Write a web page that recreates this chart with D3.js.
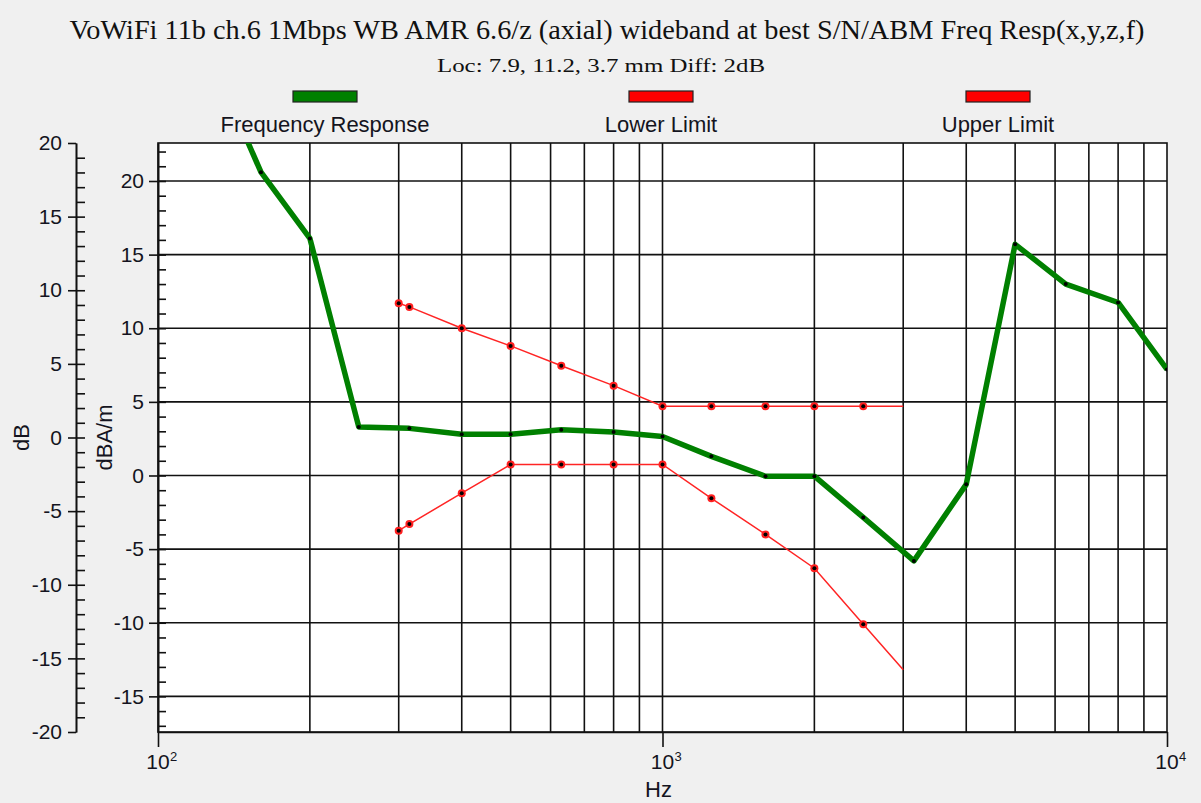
<!DOCTYPE html>
<html>
<head>
<meta charset="utf-8">
<script src="https://cdn.jsdelivr.net/npm/d3@7"></script>
<style>
  html, body { margin: 0; padding: 0; background: #f0f0f0; }
  svg { display: block; }
</style>
</head>
<body>
<svg id="chart" width="1201" height="803"></svg>
<script>
// ---- data ----
const titleText = "VoWiFi 11b ch.6 1Mbps WB AMR 6.6/z (axial) wideband at best S/N/ABM Freq Resp(x,y,z,f)";
const subtitleText = "Loc: 7.9, 11.2, 3.7 mm Diff: 2dB";
const legendNames = ["Frequency Response", "Lower Limit", "Upper Limit"];
const legendColors = ["#008000", "#ff0000", "#ff0000"];

const frFreq  = [125, 160, 200, 250, 315, 400, 500, 630, 800, 1000, 1250, 1600, 2000, 2500, 3150, 4000, 5000, 6300, 8000, 10000];
const frValue = [29.0, 20.6, 16.1, 3.3, 3.2, 2.8, 2.8, 3.1, 2.95, 2.65, 1.3, -0.05, -0.05, -2.85, -5.8, -0.6, 15.7, 13.0, 11.75, 7.2];

const limFreq     = [300, 315, 400, 500, 630, 800, 1000, 1250, 1600, 2000, 2500, 3000];
const upperValue  = [11.7, 11.45, 10.0, 8.8, 7.45, 6.1, 4.7, 4.7, 4.7, 4.7, 4.7, 4.7];
const lowerValue  = [-3.75, -3.3, -1.2, 0.75, 0.75, 0.75, 0.75, -1.55, -4.0, -6.3, -10.1, -13.2];
const limMarked   = [true, true, true, true, true, true, true, true, true, true, true, false];

const dbTicks     = [-20, -15, -10, -5, 0, 5, 10, 15, 20];
const dbaTicks    = [-15, -10, -5, 0, 5, 10, 15, 20];
const xMajorTicks = [100, 1000, 10000];
const xExponents  = ["2", "3", "4"];
const xGrid       = [200,300,400,500,600,700,800,900,2000,3000,4000,5000,6000,7000,8000,9000];

// ---- layout ----
const svg = d3.select("#chart");
const L = 158, R = 1167, T = 143, B = 732;
const x = d3.scaleLog().domain([100, 10000]).range([L, R]);
const y = d3.scaleLinear().domain([-17.42, 22.58]).range([B, T]);   // dBA/m
const yDb = d3.scaleLinear().domain([-20, 20]).range([B, T]);      // dB
const font = "'Liberation Sans', Arial, sans-serif";
const textCol = "#141420";
const plain = d => String(d);   // ASCII hyphen minus, as in the reference

// titles
svg.append("text").attr("x", 607).attr("y", 39).attr("text-anchor", "middle")
  .attr("font-family", "'Liberation Serif', 'Times New Roman', serif").attr("font-size", 27)
  .attr("textLength", 1075).attr("lengthAdjust", "spacingAndGlyphs")
  .attr("fill", "#111").text(titleText);
svg.append("text").attr("x", 601).attr("y", 72).attr("text-anchor", "middle")
  .attr("font-family", "'Liberation Serif', 'Times New Roman', serif").attr("font-size", 19)
  .attr("textLength", 328).attr("lengthAdjust", "spacingAndGlyphs")
  .attr("fill", "#111").text(subtitleText);

// legend
const legX = [325, 661, 998];
legendNames.forEach((n, i) => {
  svg.append("rect").attr("x", legX[i] - 32).attr("y", 91).attr("width", 64).attr("height", 11)
    .attr("fill", legendColors[i]).attr("stroke", "#222").attr("stroke-width", 1.2);
  svg.append("text").attr("x", legX[i]).attr("y", 132).attr("text-anchor", "middle")
    .attr("font-family", font).attr("font-size", 22).attr("fill", textCol).text(n);
});

// plot background
svg.append("rect").attr("x", L).attr("y", T).attr("width", R - L).attr("height", B - T).attr("fill", "#fff");

// grid
const grid = svg.append("g").attr("stroke", "#111").attr("stroke-width", 1.6);
grid.selectAll(".vg").data(xGrid).join("line")
  .attr("x1", d => x(d)).attr("x2", d => x(d)).attr("y1", T).attr("y2", B);
grid.append("line").attr("x1", x(1000)).attr("x2", x(1000)).attr("y1", T).attr("y2", B);
grid.selectAll(".hg").data(dbaTicks).join("line")
  .attr("x1", L).attr("x2", R).attr("y1", d => y(d)).attr("y2", d => y(d));
// frame
svg.append("rect").attr("x", L).attr("y", T).attr("width", R - L).attr("height", B - T)
  .attr("fill", "none").attr("stroke", "#111").attr("stroke-width", 1.6);

// clip
svg.append("clipPath").attr("id", "clip").append("rect")
  .attr("x", L).attr("y", T).attr("width", R - L).attr("height", B - T);
const plot = svg.append("g").attr("clip-path", "url(#clip)");

// series
const line = d3.line().x(d => x(d[0])).y(d => y(d[1]));
const lower = limFreq.map((f, i) => [f, lowerValue[i], limMarked[i]]);
const upper = limFreq.map((f, i) => [f, upperValue[i], limMarked[i]]);
const fr = frFreq.map((f, i) => [f, frValue[i]]);

[lower, upper].forEach(s => {
  plot.append("path").datum(s).attr("d", line).attr("fill", "none")
    .attr("stroke", "#ff2424").attr("stroke-width", 1.5);
  const pts = s.filter(d => d[2]);
  plot.selectAll(null).data(pts).join("circle").attr("cx", d => x(d[0])).attr("cy", d => y(d[1]))
    .attr("r", 4).attr("fill", "#ff2020");
  plot.selectAll(null).data(pts).join("circle").attr("cx", d => x(d[0])).attr("cy", d => y(d[1]))
    .attr("r", 2).attr("fill", "#000");
});

plot.append("path").datum(fr).attr("d", line).attr("fill", "none")
  .attr("stroke", "#008000").attr("stroke-width", 5.5).attr("stroke-linejoin", "round");
plot.selectAll(null).data(fr).join("circle").attr("cx", d => x(d[0])).attr("cy", d => y(d[1]))
  .attr("r", 2).attr("fill", "#000");

// ---- axes ----
function styleAxis(g) {
  g.selectAll("path, line").attr("stroke", "#111").attr("stroke-width", 1.6);
  g.selectAll("text").attr("font-family", font).attr("font-size", 21).attr("fill", textCol);
}
// dB axis (outer left)
const dbAxis = svg.append("g").attr("transform", "translate(76,0)")
  .call(d3.axisLeft(yDb).tickValues(dbTicks).tickSize(8).tickSizeOuter(0).tickPadding(6).tickFormat(plain));
styleAxis(dbAxis);
const dbMinor = svg.append("g").attr("transform", "translate(76,0)")
  .call(d3.axisRight(yDb).tickValues(d3.range(-19, 20)).tickSize(9).tickSizeOuter(0).tickFormat(""));
styleAxis(dbMinor);

// dBA/m axis (plot left)
const dbaAxis = svg.append("g").attr("transform", `translate(${L},0)`)
  .call(d3.axisLeft(y).tickValues(dbaTicks).tickSize(9).tickSizeOuter(0).tickPadding(5).tickFormat(plain));
styleAxis(dbaAxis);
const dbaMinor = svg.append("g").attr("transform", `translate(${L},0)`)
  .call(d3.axisRight(y).tickValues(d3.range(-17, 23)).tickSize(8).tickSizeOuter(0).tickFormat(""));
styleAxis(dbaMinor);

// x axis
const xAxis = svg.append("g").attr("transform", `translate(0,${B})`)
  .call(d3.axisBottom(x).tickValues(xMajorTicks).tickSize(15).tickSizeOuter(0).tickFormat(""));
styleAxis(xAxis);
xMajorTicks.forEach((t, i) => {
  svg.append("text").attr("x", x(t)).attr("y", 769).attr("text-anchor", "middle")
    .attr("font-family", font).attr("font-size", 21).attr("fill", textCol).text("10");
  svg.append("text").attr("x", x(t) + 12).attr("y", 761)
    .attr("font-family", font).attr("font-size", 13).attr("fill", textCol).text(xExponents[i]);
});

// axis titles
svg.append("text").attr("x", L + (R - L) / 2 - 4).attr("y", 797).attr("text-anchor", "middle")
  .attr("font-family", font).attr("font-size", 22).attr("fill", textCol).text("Hz");
svg.append("text").attr("transform", `translate(29,${(T + B) / 2}) rotate(-90)`).attr("text-anchor", "middle")
  .attr("font-family", font).attr("font-size", 22).attr("fill", textCol).text("dB");
svg.append("text").attr("transform", `translate(112,${(T + B) / 2}) rotate(-90)`).attr("text-anchor", "middle")
  .attr("font-family", font).attr("font-size", 22).attr("fill", textCol).text("dBA/m");
</script>
</body>
</html>
